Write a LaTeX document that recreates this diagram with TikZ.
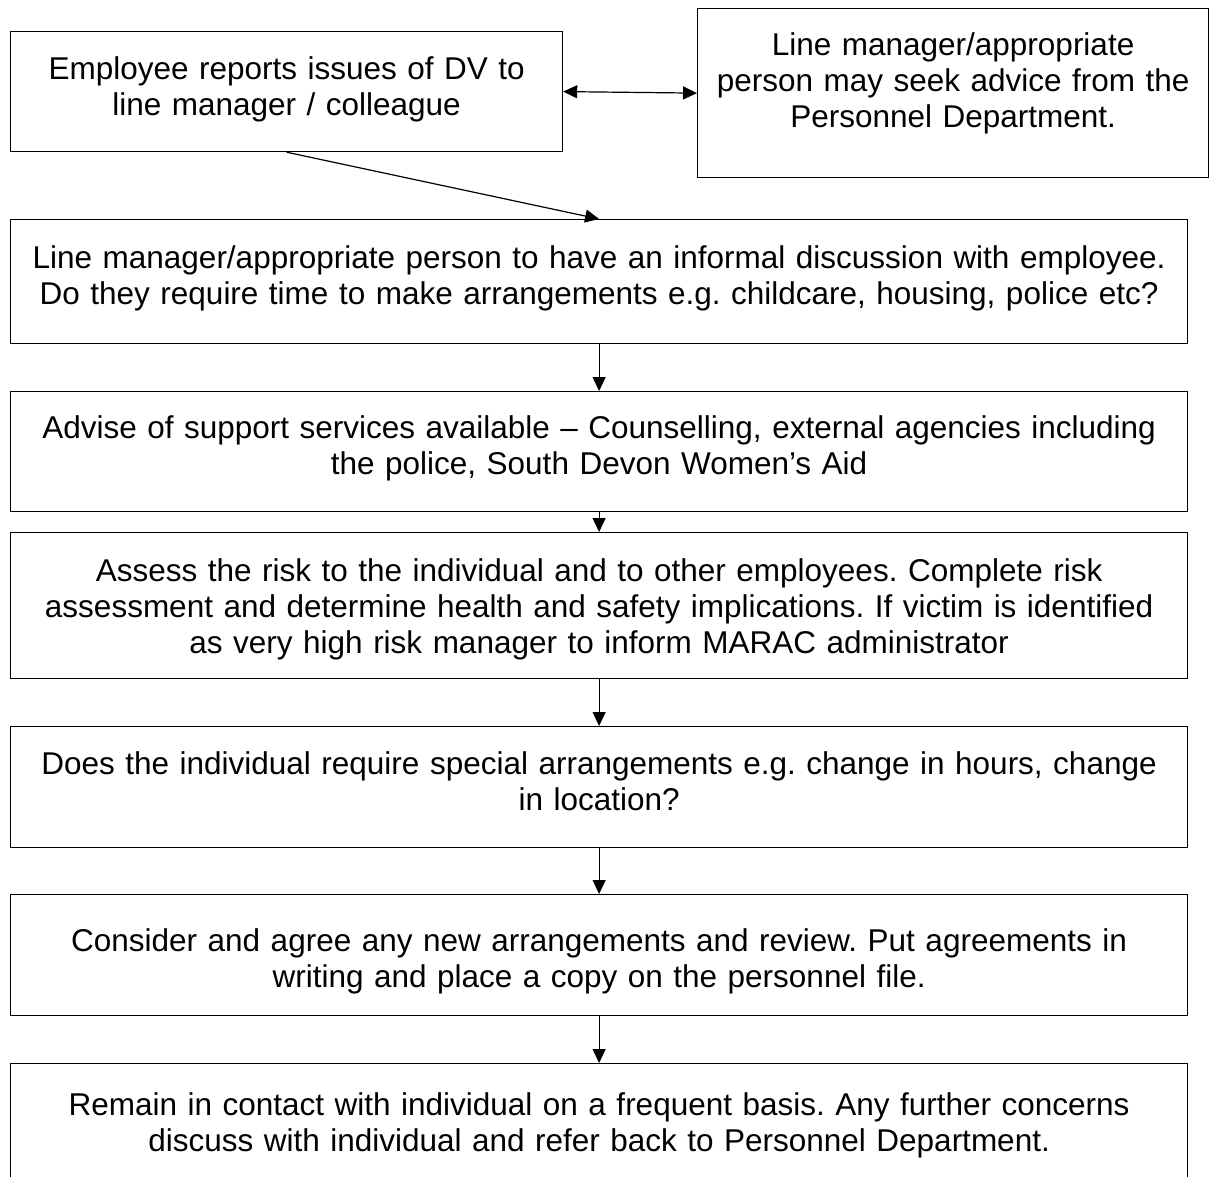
\documentclass[tikz,border=0pt]{standalone}
\usepackage{fontspec}
\setmainfont{Liberation Sans}
\usetikzlibrary{arrows.meta}
\newcommand\boxfont{\fontsize{31.5}{36}\selectfont\frenchspacing}
\begin{document}
\begin{tikzpicture}[x=1pt,y=-1pt,
  box/.style={draw, line width=1.2pt, rectangle, inner sep=0pt, anchor=north west, align=center, font=\boxfont},
  arr/.style={-{Triangle[length=14pt,width=13pt]}, line width=1.2pt},
  darr/.style={{Triangle[length=14pt,width=13pt]}-{Triangle[length=14pt,width=13pt]}, line width=1.2pt}]
\useasboundingbox (0,0) rectangle (1210,1176);
\clip (0,0) rectangle (1210,1176);
\fill[white] (0,0) rectangle (1210,1176);
\node[box, text width=552pt, text height=48pt, text depth=72pt] (b1) at (10,31)
  {Employee reports issues of DV to\\line manager / colleague};
\node[box, text width=511pt, text height=47pt, text depth=122pt] (b2) at (697,8)
  {Line manager/appropriate\\person may seek advice from the\\Personnel Department.};
\node[box, text width=1177pt, text height=49pt, text depth=75pt] (b3) at (10,219)
  {Line manager/appropriate person to have an informal discussion with employee.\\Do they require time to make arrangements e.g. childcare, housing, police etc?};
\node[box, text width=1177pt, text height=47pt, text depth=73pt] (b4) at (10,391)
  {Advise of support services available – Counselling, external agencies including\\the police, South Devon Women’s Aid};
\node[box, text width=1177pt, text height=49pt, text depth=97pt] (b5) at (10,532)
  {Assess the risk to the individual and to other employees. Complete risk\\assessment and determine health and safety implications. If victim is identified\\as very high risk manager to inform MARAC administrator};
\node[box, text width=1177pt, text height=48pt, text depth=73pt] (b6) at (10,726)
  {Does the individual require special arrangements e.g. change in hours, change\\in location?};
\node[box, text width=1177pt, text height=57pt, text depth=64pt] (b7) at (10,894)
  {Consider and agree any new arrangements and review. Put agreements in\\writing and place a copy on the personnel file.};
\node[box, text width=1177pt, text height=52pt, text depth=72pt] (b8) at (10,1063)
  {Remain in contact with individual on a frequent basis. Any further concerns\\discuss with individual and refer back to Personnel Department.};
\draw[darr] (b1.east) -- (b2.west);
\draw[arr] (b1.south) -- (b3.north);
\draw[arr] (b3.south) -- (b4.north);
\draw[arr] (b4.south) -- (b5.north);
\draw[arr] (b5.south) -- (b6.north);
\draw[arr] (b6.south) -- (b7.north);
\draw[arr] (b7.south) -- (b8.north);
\end{tikzpicture}
\end{document}
